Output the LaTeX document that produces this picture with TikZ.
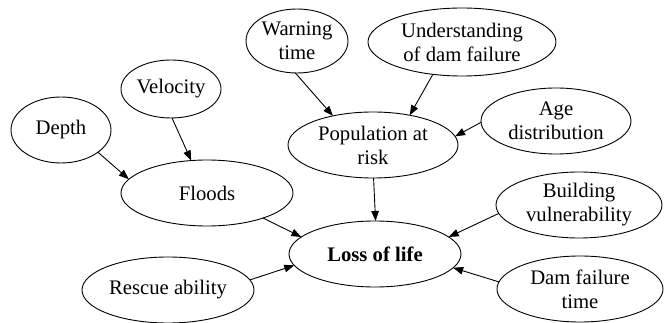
\documentclass[tikz,border=0pt]{standalone}
\usepackage{fontspec}
\setmainfont{Liberation Serif}
\usetikzlibrary{shapes.geometric,arrows.meta}
\begin{document}
\begin{tikzpicture}[x=1pt,y=-1pt,
  bub/.style={draw=black,line width=0.9pt,ellipse,inner sep=0pt,outer sep=0pt,align=center,
    font=\fontsize{20.7}{24}\selectfont},
  arr/.style={line width=0.9pt,-{Triangle[length=10pt,width=7.5pt]}}]
\useasboundingbox (0,0) rectangle (665,323);
\node[bub,minimum width=100pt,minimum height=66pt] (depth) at (61,130) {Depth};
\node[bub,minimum width=100pt,minimum height=58pt] (vel) at (171,89) {Velocity};
\node[bub,minimum width=102pt,minimum height=64pt] (warn) at (297,41) {Warning\\time};
\node[bub,minimum width=188pt,minimum height=68pt] (under) at (462,42) {Understanding\\of dam failure};
\node[bub,minimum width=150pt,minimum height=66pt] (age) at (556,121) {Age\\distribution};
\node[bub,minimum width=170pt,minimum height=66pt] (pop) at (373,145) {Population at\\risk};
\node[bub,minimum width=172pt,minimum height=66pt] (floods) at (207,193) {Floods};
\node[bub,minimum width=166pt,minimum height=66pt] (build) at (579,205) {Building\\vulnerability};
\node[bub,minimum width=172pt,minimum height=66pt] (loss) at (375,254) {\bfseries Loss of life};
\node[bub,minimum width=172pt,minimum height=66pt] (rescue) at (168,290) {Rescue ability};
\node[bub,minimum width=166pt,minimum height=66pt] (dam) at (580,289) {Dam failure\\time};

\draw[arr] (depth.-31) -- (floods.170);
\draw[arr] (vel.-88) -- (floods.116);
\draw[arr] (warn.-93) -- (pop.144);
\draw[arr] (under.-132) -- (pop.39);
\draw[arr] (age.181) -- (pop.6);
\draw[arr] (floods.-24) -- (loss.167);
\draw[arr] (pop.-89.5) -- (loss.89.5);
\draw[arr] (rescue.7) -- (loss.-172);
\draw[arr] (build.-174) -- (loss.13);
\draw[arr] (dam.175) -- (loss.-10);
\end{tikzpicture}
\end{document}
